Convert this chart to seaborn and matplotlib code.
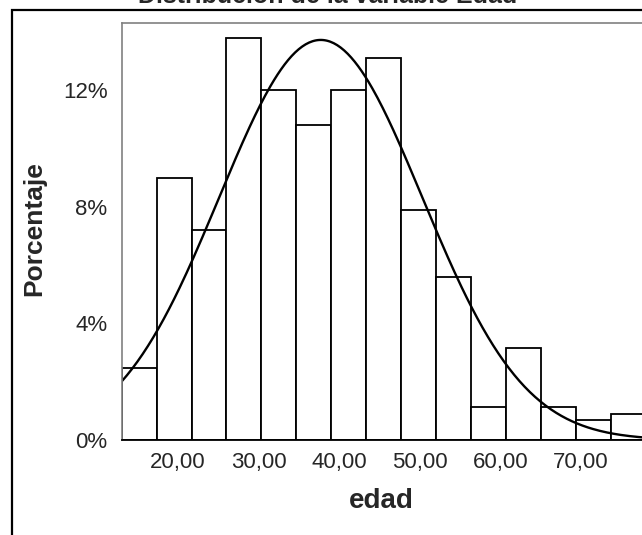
import numpy as np
import seaborn as sns
import matplotlib.pyplot as plt
from matplotlib.ticker import FuncFormatter
from matplotlib.patches import Rectangle

# Histogram of "edad" (percent per bin)
bin_edges = [13.0, 17.33, 21.67, 26.0, 30.33, 34.67, 39.0, 43.33, 47.67,
             52.0, 56.33, 60.67, 65.0, 69.33, 73.67, 78.0]
bin_mid = [15.17, 19.5, 23.83, 28.17, 32.5, 36.83, 41.17, 45.5, 49.83,
           54.17, 58.5, 62.83, 67.17, 71.5, 75.83]
porcentaje = [2.47, 9.0, 7.2, 13.8, 12.0, 10.8, 12.0, 13.1, 7.9,
              5.6, 1.13, 3.15, 1.13, 0.69, 0.9]

# Normal curve parameters
media = 37.7
desv = 12.6
ancho_bin = 4.333

x_ticks = [20, 30, 40, 50, 60, 70]
y_ticks = [0, 4, 8, 12]

sns.set_style('white')
plt.rcParams['font.family'] = ['Liberation Sans', 'DejaVu Sans']

fig = plt.figure(figsize=(6.42, 5.35), dpi=100)
ax = fig.add_axes([121.7 / 642, 1 - 440 / 535, 523.8 / 642, 417 / 535])

sns.histplot(x=bin_mid, weights=porcentaje, bins=bin_edges, stat='count',
             color='white', edgecolor='black', linewidth=1.3, alpha=1, ax=ax)

# Normal fit curve scaled to percent per bin
xs = np.linspace(13, 78, 300)
ys = 100 * ancho_bin / (desv * np.sqrt(2 * np.pi)) * np.exp(-0.5 * ((xs - media) / desv) ** 2)
ax.plot(xs, ys, color='black', linewidth=1.7)

ax.set_xlim(13, 78)
ax.set_ylim(0, 14.3)
ax.set_xticks(x_ticks)
ax.set_yticks(y_ticks)
ax.xaxis.set_major_formatter(FuncFormatter(lambda v, p: f"{v:.2f}".replace('.', ',')))
ax.yaxis.set_major_formatter(FuncFormatter(lambda v, p: f"{v:.0f}%"))
ax.tick_params(axis='x', direction='out', length=5.8, width=2.2, pad=3, labelsize=16, color='black')
ax.tick_params(axis='y', direction='out', length=7.2, width=2.2, pad=3, labelsize=16, color='black')
ax.set_xlabel('')
ax.set_ylabel('')

for s in ['left', 'top', 'right']:
    ax.spines[s].set_color('#808080')
    ax.spines[s].set_linewidth(1.2)
ax.spines['bottom'].set_color('black')
ax.spines['bottom'].set_linewidth(1.3)

# Outer frame of the SPSS chart (cropped at right and bottom)
fig.patches.append(Rectangle((12 / 642, -0.1), 1.2, 1.1 - 9.5 / 535, fill=False,
                             edgecolor='black', linewidth=1.6, transform=fig.transFigure))

# Title sits mostly above the visible area, as in the reference
fig.text(328 / 642, 1 - 3.3 / 535, 'Distribución de la variable Edad', ha='center',
         va='baseline', fontsize=18, fontweight='bold')
fig.text(34 / 642, 1 - 229 / 535, 'Porcentaje', rotation=90, ha='center', va='center',
         fontsize=19, fontweight='bold')
fig.text(381 / 642, 1 - 508 / 535, 'edad', ha='center', va='baseline',
         fontsize=20, fontweight='bold')

plt.savefig('out.png', dpi=100)
plt.close()
